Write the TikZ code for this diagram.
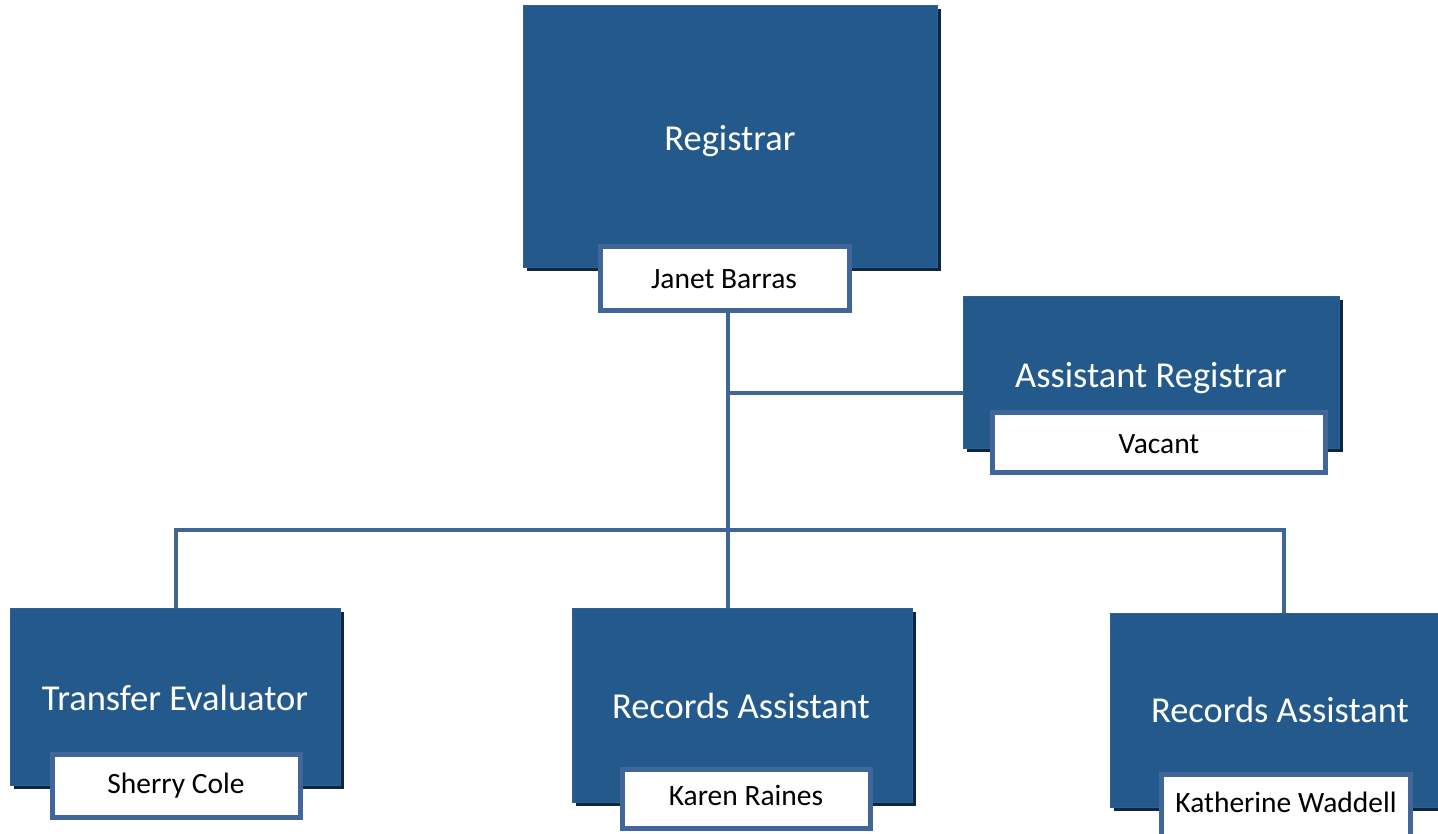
\documentclass[tikz,border=0pt]{standalone}
\usepackage{fontspec}
\setmainfont{Carlito}
\usetikzlibrary{shadows}
\definecolor{boxblue}{HTML}{245A8B}
\definecolor{boxedge}{HTML}{2C6196}
\definecolor{namebord}{HTML}{41679A}
\definecolor{connc}{HTML}{3F6696}
\definecolor{shadowc}{HTML}{0E2740}
\tikzset{
  rolebox/.style={rectangle, inner sep=0pt, fill=boxblue, draw=boxedge, line width=1pt,
    drop shadow={shadow xshift=4pt, shadow yshift=-4pt, fill=shadowc, opacity=1}},
  namebox/.style={rectangle, inner sep=0pt, fill=white, draw=namebord, line width=5pt},
  titletext/.style={anchor=base, text=white, font=\fontsize{36.5}{40}\selectfont, inner sep=0pt},
  nametext/.style={anchor=base, text=black, font=\fontsize{29.5}{33}\selectfont, inner sep=0pt},
  conn/.style={draw=connc, line width=4.5pt}
}
\begin{document}
\begin{tikzpicture}[x=1pt,y=-1pt]
\useasboundingbox (0,0) rectangle (1438,833);
\clip (0,0) rectangle (1438,833);

% junction coordinates
\coordinate (ja) at (728,393);
\coordinate (jb) at (728,530);
\coordinate (lt) at (176,530);
\coordinate (rt) at (1284,530);

% boxes
\node[rolebox, minimum width=414pt, minimum height=262pt] (reg) at (730,136) {};
\node[rolebox, minimum width=376pt, minimum height=152pt] (asst) at (1151,372) {};
\node[rolebox, minimum width=330pt, minimum height=177pt] (trans) at (175,696.5) {};
\node[rolebox, minimum width=340pt, minimum height=194pt] (recm) at (742,705) {};
\node[rolebox, minimum width=340pt, minimum height=194pt] (recr) at (1280,710) {};

% connectors
\draw[conn] (ja |- 313,313) -- (ja |- recm.north);
\draw[conn] (ja) -- (ja -| asst.west);
\draw[conn] (lt |- trans.north) -- (lt) -- (rt) -- (rt |- recr.north);

% name boxes
\node[namebox, minimum width=249pt, minimum height=64pt] (janet) at (725,278.5) {};
\node[namebox, minimum width=333pt, minimum height=60pt] (vac) at (1159,442.5) {};
\node[namebox, minimum width=248pt, minimum height=63pt] (sherry) at (176.5,786) {};
\node[namebox, minimum width=248pt, minimum height=59pt] (karen) at (746.5,799) {};
\node[namebox, minimum width=249pt, minimum height=68pt] (kath) at (1286,808.5) {};

% texts
\node[titletext] (t1) at (730,150) {Registrar};
\node[nametext] (n1) at (724,288) {Janet Barras};
\node[titletext] (t2) at (1151,387) {Assistant Registrar};
\node[nametext] (n2) at (1159,453) {Vacant};
\node[titletext] (t3) at (175,710) {Transfer Evaluator};
\node[nametext] (n3) at (176,793) {Sherry Cole};
\node[titletext] (t4) at (741,718) {Records Assistant};
\node[nametext] (n4) at (746,805) {Karen Raines};
\node[titletext] (t5) at (1280,722) {Records Assistant};
\node[nametext] (n5) at (1286,812) {Katherine Waddell};
\end{tikzpicture}
\end{document}
